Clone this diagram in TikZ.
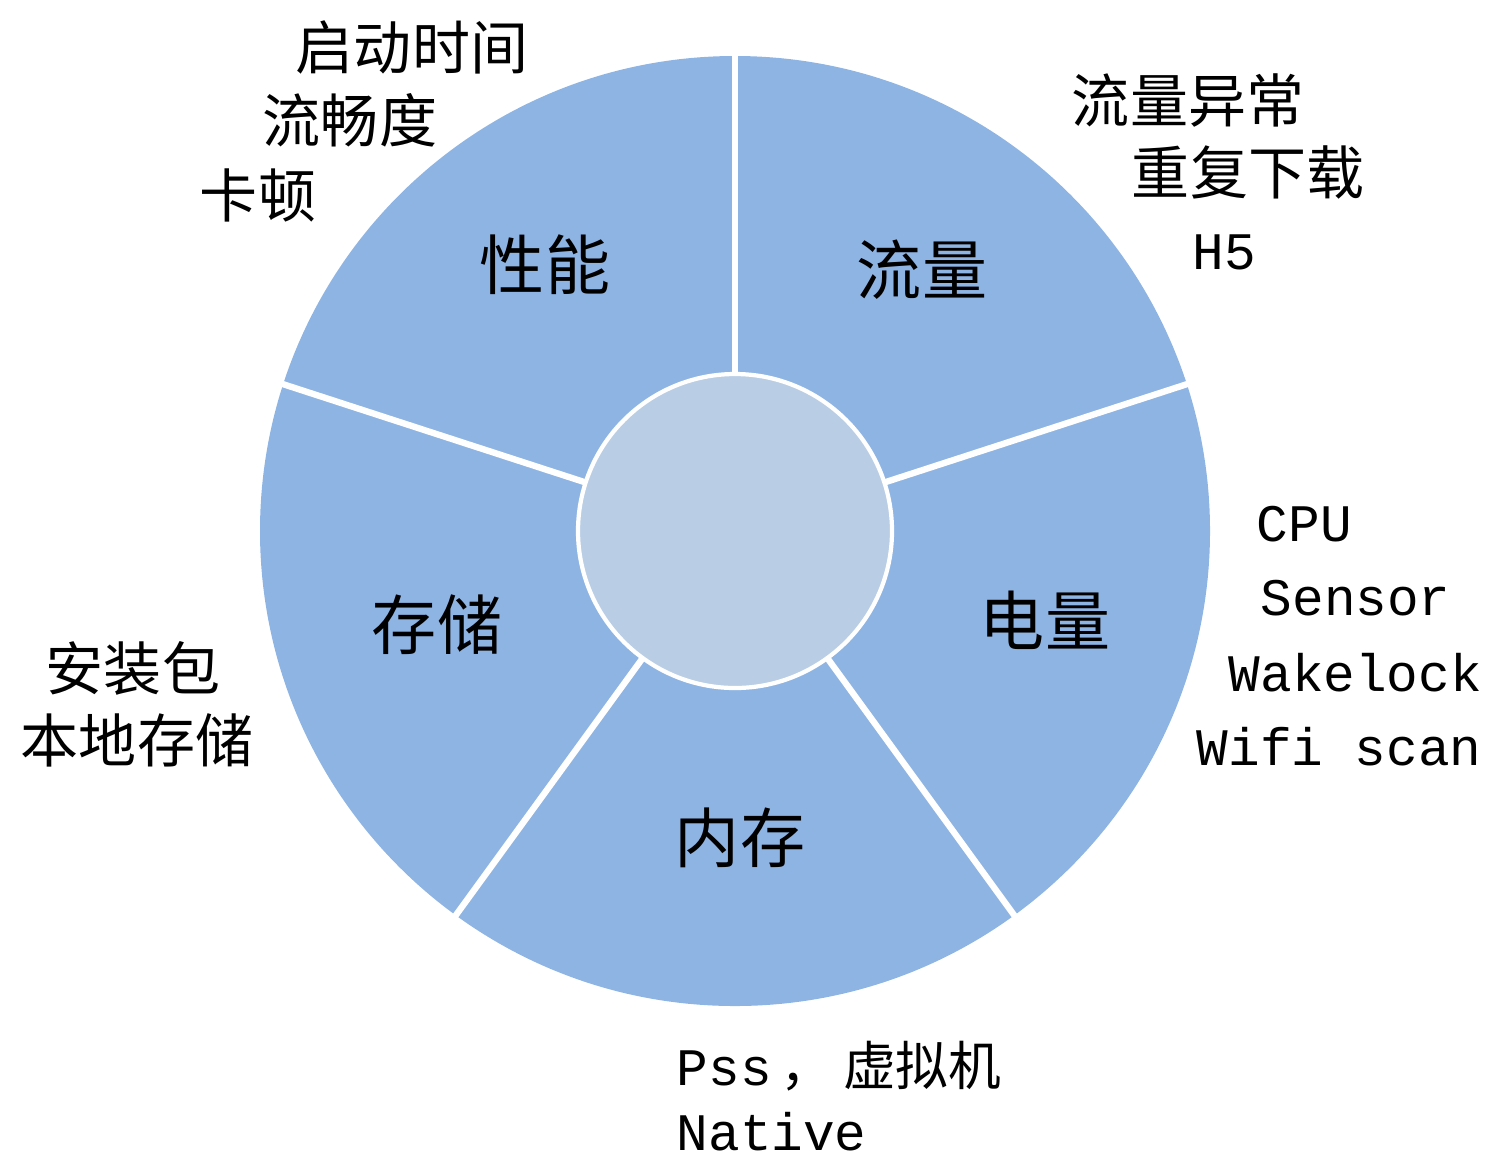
\documentclass[tikz,border=0pt]{standalone}
\usepackage{fontspec}
\usepackage{xcolor}
\newfontfamily\cjk{Noto Sans CJK SC}
\newfontfamily\mono{Liberation Mono}
\definecolor{outerblue}{HTML}{8EB4E3}
\definecolor{innerblue}{HTML}{B9CDE5}

\begin{document}
\begin{tikzpicture}[x=0.01cm,y=-0.01cm,
    sector/.style={font=\cjk\fontsize{18.5}{20}\selectfont, inner sep=0pt},
    note/.style={font=\cjk\fontsize{16.5}{18}\selectfont, inner sep=0pt},
    code/.style={font=\mono\fontsize{15}{17}\selectfont, inner sep=0pt, anchor=west}]
                \useasboundingbox (0,0) rectangle (1492,1160);
                % 定义半径
                \pgfmathsetmacro{\R}{475} % 外圆半径
                \pgfmathsetmacro{\r}{157} % 内圆半径
                \coordinate (o) at (735,531);

                % 外圆
                \fill[outerblue] (o) circle[radius=\R];
                % 白色分隔线
                \foreach \a in {-90,-18,54,126,198}
                    \draw[white, line width=1.8pt] (o) -- ++(\a:\R+6);
                % 内圆
                \draw[white, line width=1.2pt, fill=innerblue] (o) circle[radius=\r];

                % 扇区标签
                \node[sector] (perf) at (545,265) {性能};
                \node[sector] (flow) at (922,270) {流量};
                \node[sector] (power) at (1045,620) {电量};
                \node[sector] (mem) at (740,838) {内存};
                \node[sector] (disk) at (437,625) {存储};

                % 外部说明
                \node[note] (perf1) at (412,47) {启动时间};
                \node[note] (perf2) at (350,120) {流畅度};
                \node[note] (perf3) at (258,195) {卡顿};
                \node[note] (flow1) at (1188,100) {流量异常};
                \node[note] (flow2) at (1248,172) {重复下载};
                \node[code] (flow3) at (1192,252) {H5};
                \node[code] (power1) at (1256,524) {CPU};
                \node[code] (power2) at (1260,598) {Sensor};
                \node[code] (power3) at (1228,673) {Wakelock};
                \node[code] (power4) at (1196,747) {Wifi scan};
                \node[note] (disk1) at (133,668) {安装包};
                \node[note] (disk2) at (137,740) {本地存储};
                \node[code] (mem1) at (676,1066) {Pss{\cjk \,，\hspace{0.1cm}虚拟机}};
                \node[code] (mem2) at (676,1132) {Native};
            \end{tikzpicture}
\end{document}
